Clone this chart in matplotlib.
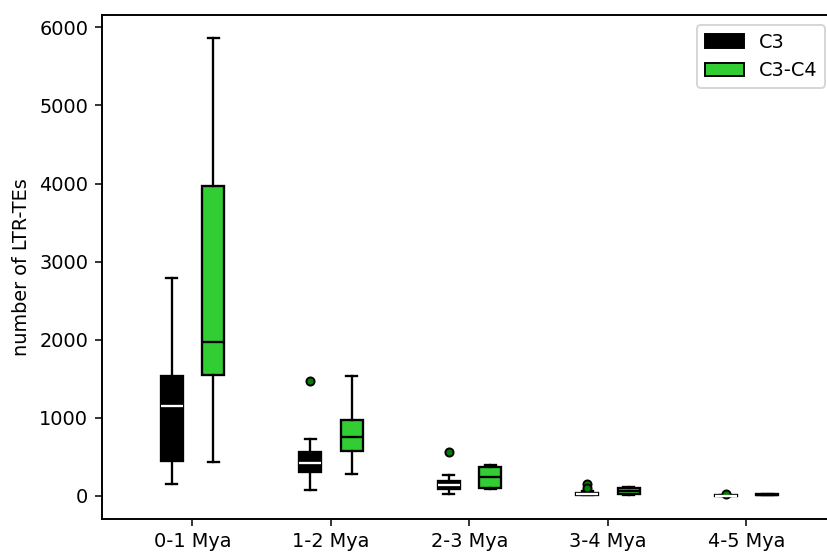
import matplotlib
matplotlib.use("Agg")
import matplotlib.pyplot as plt
from matplotlib.patches import Patch

groups = ["0-1 Mya", "1-2 Mya", "2-3 Mya", "3-4 Mya", "4-5 Mya"]
series = ["C3", "C3-C4"]

# box stats
c3_whislo = [152, 67, 24, 3, 0]
c3_q1 = [450, 302, 79, 12, 0]
c3_med = [1153, 412, 130, 25, 1]
c3_q3 = [1537, 565, 182, 35, 2]
c3_whishi = [2786, 728, 267, 55, 3]
c3_fliers = [[], [1473], [565], [152, 101], [25]]

c34_whislo = [430, 280, 79, 10, 2]
c34_q1 = [1546, 570, 97, 15, 8]
c34_med = [1968, 749, 238, 55, 12]
c34_q3 = [3967, 974, 373, 100, 16]
c34_whishi = [5864, 1529, 395, 105, 22]
c34_fliers = [[], [], [], [], []]


def make_stats(lo, q1, med, q3, hi, fl):
    return [dict(whislo=a, q1=b, med=c, q3=d, whishi=e, fliers=f)
            for a, b, c, d, e, f in zip(lo, q1, med, q3, hi, fl)]


dpi = 139
plt.rcParams["axes.linewidth"] = 1.0
fig = plt.figure(figsize=(827 / dpi, 553 / dpi), dpi=dpi)
ax = fig.add_axes([101.7 / 827, 34.5 / 553, (835 - 101.7) / 827, (518.3 - 15) / 553])

pos = list(range(1, len(groups) + 1))
off = 0.15
w = 0.16
lw = 1.2

line = dict(color="black", linewidth=lw)
flier = dict(marker="o", markersize=4.2, markerfacecolor="green",
             markeredgecolor="black", markeredgewidth=1.0)

ax.bxp(make_stats(c3_whislo, c3_q1, c3_med, c3_q3, c3_whishi, c3_fliers),
       positions=[p - off for p in pos], widths=w, patch_artist=True,
       boxprops=dict(facecolor="black", edgecolor="black", linewidth=lw),
       medianprops=dict(color="white", linewidth=lw),
       whiskerprops=line, capprops=line, flierprops=flier,
       manage_ticks=False)

ax.bxp(make_stats(c34_whislo, c34_q1, c34_med, c34_q3, c34_whishi, c34_fliers),
       positions=[p + off for p in pos], widths=w, patch_artist=True,
       boxprops=dict(facecolor="limegreen", edgecolor="black", linewidth=lw),
       medianprops=dict(color="black", linewidth=lw),
       whiskerprops=line, capprops=line, flierprops=flier,
       manage_ticks=False)

ax.set_xticks(pos)
ax.set_xticklabels(groups)
ax.set_xlim(0.345, 5.64)
ax.set_ylim(-293, 6157)
ax.set_ylabel("number of LTR-TEs")

handles = [Patch(facecolor="black", edgecolor="black"),
           Patch(facecolor="limegreen", edgecolor="black")]
ax.legend(handles, series, loc="upper right")

fig.savefig("out.png", dpi=dpi)
